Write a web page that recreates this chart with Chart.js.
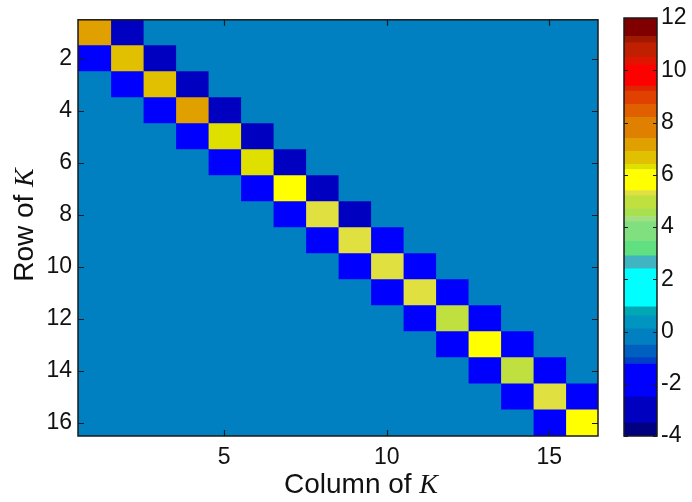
<!DOCTYPE html>
<html><head><meta charset="utf-8">
<script src="https://cdn.jsdelivr.net/npm/chart.js@4.4.1/dist/chart.umd.min.js"></script>
<style>
html,body{margin:0;padding:0;background:#fff;}
#wrap{position:relative;width:692px;height:502px;overflow:hidden;}
#main{position:absolute;left:0;top:0;}
#cbar{position:absolute;left:600px;top:0;}
</style></head><body>
<div id="wrap">
<canvas id="main" width="692" height="502"></canvas>
<canvas id="cbar" width="92" height="502"></canvas>
</div>
<script>
// ---- data ----
const rowLabels = ['1','2','3','4','5','6','7','8','9','10','11','12','13','14','15','16'];
const colNumbers = [1,2,3,4,5,6,7,8,9,10,11,12,13,14,15,16];
const colTicks = [5, 10, 15];
const diagValues = [7.1, 6.6, 6.6, 7.1, 6.3, 6.3, 5.8, 5.3, 5.3, 5.3, 5.3, 4.9, 5.8, 4.9, 5.3, 5.8];
const superDiagValues = [-3, -3, -3, -3, -3, -3, -3, -3, -2, -2, -2, -2, -2, -2, -2];
const subDiagValues = [-2, -2, -2, -2, -2, -2, -2, -2, -2, -2, -2, -2, -2, -2, -2];
const cbTicks = [-4, -2, 0, 2, 4, 6, 8, 10, 12];
// colour map (band edges in value units, and band colours)
const cbEdges = [-4, -3.5, -2.5, -1.25, -1, -0.5, 0.1, 0.6, 0.95, 2.4, 2.9, 3.45, 4.2, 4.4, 4.7, 5.2, 5.4, 6.2, 6.4, 6.9, 7.4, 8.2, 8.7, 9.2, 9.4, 10.2, 10.5, 11.05, 11.3, 12];
const cbColors = ['#000080','#0000C0','#0000FF','#0040C8','#0060C0','#0080C0','#0094C0','#00A8B4','#00FFFF','#40B4C0','#60E080','#80E080','#A0E080','#A8E050','#C0E040','#E0E040','#FFFF00','#E0E000','#E0C000','#E0A000','#E08000','#E06000','#E04000','#E02400','#FF0000','#E01400','#C02000','#A01800','#800000'];

// ---- matrix built from the arrays ----
const K = rowLabels.map((_, i) => colNumbers.map((_, j) => {
  if (i === j) return diagValues[i];
  if (j === i + 1) return superDiagValues[i];
  if (j === i - 1) return subDiagValues[j];
  return 0;
}));
function colorFor(v) {
  for (let k = 0; k < cbColors.length; k++) {
    if (v >= cbEdges[k] && v < cbEdges[k + 1]) return cbColors[k];
  }
  return v < cbEdges[0] ? cbColors[0] : cbColors[cbColors.length - 1];
}

const SANS = "'Liberation Sans', Arial, sans-serif";
const SERIF = "'Liberation Serif', 'Times New Roman', serif";
const TICKFONT = { family: SANS, size: 23 };
const TXT = '#111';

const framePlugin = {
  id: 'frame',
  afterDraw(chart) {
    const { ctx, chartArea: a, scales: { x, y } } = chart;
    ctx.save();
    ctx.strokeStyle = '#1a1a1a';
    ctx.lineWidth = 1.5;
    ctx.strokeRect(a.left, a.top, a.right - a.left, a.bottom - a.top);
    ctx.lineWidth = 1.2;
    const tl = 6;
    ctx.beginPath();
    colTicks.forEach(v => {
      const px = Math.round(x.getPixelForValue(v)) + 0.5;
      ctx.moveTo(px, a.bottom); ctx.lineTo(px, a.bottom - tl);
      ctx.moveTo(px, a.top); ctx.lineTo(px, a.top + tl);
    });
    rowLabels.forEach((lab, i) => {
      if (i % 2 !== 1) return;
      const py = Math.round(y.getPixelForValue(i)) + 0.5;
      ctx.moveTo(a.left, py); ctx.lineTo(a.left + tl, py);
      ctx.moveTo(a.right, py); ctx.lineTo(a.right - tl, py);
    });
    ctx.stroke();
    // axis titles with italic K
    ctx.fillStyle = TXT;
    ctx.textBaseline = 'alphabetic';
    ctx.textAlign = 'left';
    const f1 = '28px ' + SANS, f2 = 'italic 28px ' + SERIF;
    function twoPart(t1, t2, cx, cy, rot) {
      ctx.save();
      ctx.translate(cx, cy);
      if (rot) ctx.rotate(-Math.PI / 2);
      ctx.font = f1; const w1 = ctx.measureText(t1).width;
      ctx.font = f2; const w2 = ctx.measureText(t2).width;
      const s = -(w1 + w2) / 2;
      ctx.font = f1; ctx.fillText(t1, s, 0);
      ctx.font = f2; ctx.fillText(t2, s + w1, 0);
      ctx.restore();
    }
    twoPart('Column of ', 'K', 361, 493, false);
    twoPart('Row of ', 'K', 33, 225, true);
    ctx.restore();
  }
};

new Chart(document.getElementById('main'), {
  type: 'bar',
  data: {
    labels: rowLabels,
    datasets: colNumbers.map((c, j) => ({
      data: rowLabels.map(() => [c - 0.5, c + 0.5]),
      backgroundColor: K.map(row => colorFor(row[j])),
      borderWidth: 0,
      inflateAmount: 0.6,
      barPercentage: 1,
      categoryPercentage: 1,
      grouped: false
    }))
  },
  options: {
    indexAxis: 'y',
    responsive: false,
    animation: false,
    events: [],
    layout: { padding: { left: 0, top: 17, right: 94, bottom: 0 } },
    plugins: { legend: { display: false }, tooltip: { enabled: false } },
    scales: {
      x: {
        type: 'linear', min: 0.5, max: 16.5,
        afterBuildTicks: s => { s.ticks = colTicks.map(v => ({ value: v })); },
        afterFit: s => { s.height = 66; },
        ticks: { font: TICKFONT, color: TXT, padding: 8, maxRotation: 0 },
        grid: { display: false, drawTicks: false },
        border: { display: false }
      },
      y: {
        type: 'category',
        afterFit: s => { s.width = 78; },
        ticks: { font: TICKFONT, color: TXT, padding: 6, autoSkip: false,
          callback: (v, i) => (i % 2 === 1 ? rowLabels[i] : '') },
        grid: { display: false, drawTicks: false },
        border: { display: false }
      }
    }
  },
  plugins: [framePlugin]
});

const cbFramePlugin = {
  id: 'cbframe',
  afterDraw(chart) {
    const { ctx, chartArea: a, scales: { y } } = chart;
    ctx.save();
    ctx.strokeStyle = '#1a1a1a';
    ctx.lineWidth = 1.5;
    ctx.strokeRect(a.left, a.top, a.right - a.left, a.bottom - a.top);
    ctx.lineWidth = 1.2;
    ctx.beginPath();
    cbTicks.forEach(v => {
      const py = Math.round(y.getPixelForValue(v)) + 0.5;
      ctx.moveTo(a.left, py); ctx.lineTo(a.left + 4, py);
      ctx.moveTo(a.right, py); ctx.lineTo(a.right - 4, py);
    });
    ctx.stroke();
    ctx.restore();
  }
};

new Chart(document.getElementById('cbar'), {
  type: 'bar',
  data: {
    labels: ['c'],
    datasets: cbColors.map((c, k) => ({
      data: [[cbEdges[k], cbEdges[k + 1]]],
      backgroundColor: c,
      borderWidth: 0,
      inflateAmount: 0.3,
      barPercentage: 1,
      categoryPercentage: 1,
      grouped: false
    }))
  },
  options: {
    responsive: false,
    animation: false,
    events: [],
    layout: { padding: { left: 24, top: 18, right: 0, bottom: 66 } },
    plugins: { legend: { display: false }, tooltip: { enabled: false } },
    scales: {
      x: { display: false },
      y: {
        position: 'right', min: -4, max: 12,
        afterBuildTicks: s => { s.ticks = cbTicks.map(v => ({ value: v })); },
        afterFit: s => { s.width = 35; },
        ticks: { font: TICKFONT, color: TXT, padding: 4 },
        grid: { display: false, drawTicks: false },
        border: { display: false }
      }
    }
  },
  plugins: [cbFramePlugin]
});
</script>
</body></html>
